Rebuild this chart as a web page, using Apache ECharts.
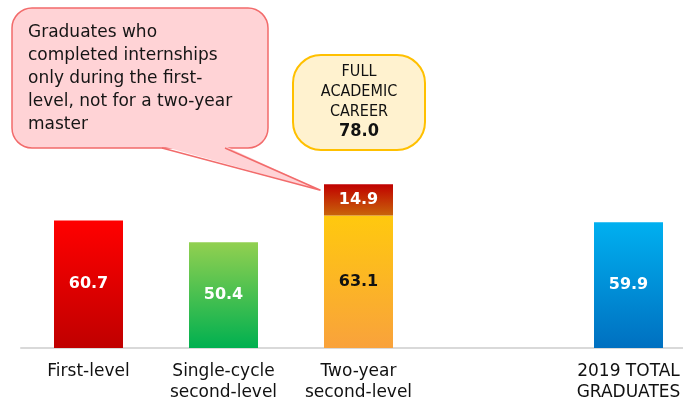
<!DOCTYPE html>
<html>
<head>
<meta charset="utf-8">
<script src="https://cdn.jsdelivr.net/npm/echarts@6/dist/echarts.min.js"></script>
<style>
html,body{margin:0;padding:0;background:#fff;}
#c{width:683px;height:403px;}
</style>
</head>
<body>
<div id="c"></div>
<script>
const categories = ['First-level', 'Single-cycle\nsecond-level', 'Two-year\nsecond-level', '', '2019 TOTAL\nGRADUATES'];
const mainValues = [60.7, 50.4, 63.1, null, 59.9];
const extraValues = [null, null, 14.9, null, null];
const mainColors = [
  ['#FF0000', '#C00000'],
  ['#92D050', '#00B050'],
  ['#FFC90E', '#F9A23C'],
  null,
  ['#00B0F0', '#0070C0']
];
const mainLabelColors = ['#ffffff', '#ffffff', '#111111', '#ffffff', '#ffffff'];
const extraColor = ['#C00000', '#C8640A'];
const noteText = 'Graduates who\ncompleted internships\nonly during the first-\nlevel, not for a two-year\nmaster';
const careerTitle = 'FULL\nACADEMIC\nCAREER';

(function () {
const FONT = 'DejaVu Sans';
function grad(c) {
  return new echarts.graphic.LinearGradient(0, 0, 0, 1, [
    { offset: 0, color: c[0] }, { offset: 1, color: c[1] }
  ]);
}

const chart = echarts.init(document.getElementById('c'), null, { renderer: 'canvas' });

const mainData = mainValues.map((v, i) => v == null ? '-' : {
  value: v,
  itemStyle: { color: grad(mainColors[i]) },
  label: { color: mainLabelColors[i] }
});
const extraData = extraValues.map(v => v == null ? '-' : v);

chart.setOption({
  animation: false,
  grid: { left: 21, right: -13, top: 138, bottom: 55, outerBoundsMode: 'none', containLabel: false },
  xAxis: {
    type: 'category',
    data: categories,
    boundaryGap: true,
    axisLine: { lineStyle: { color: '#D9D9D9', width: 2 } },
    axisTick: { show: false },
    axisLabel: {
      interval: 0,
      margin: 13,
      fontFamily: FONT,
      fontSize: 17,
      lineHeight: 21,
      color: '#111111'
    }
  },
  yAxis: { type: 'value', min: 0, max: 100, show: false },
  series: [
    {
      name: 'main',
      type: 'bar',
      stack: 'a',
      barWidth: 69,
      data: mainData,
      label: {
        show: true,
        position: 'inside',
        fontFamily: FONT,
        fontWeight: 'bold',
        fontSize: 16,
        formatter: p => p.value.toFixed(1)
      }
    },
    {
      name: 'extra',
      type: 'bar',
      stack: 'a',
      barWidth: 69,
      data: extraData,
      itemStyle: { color: grad(extraColor) },
      label: {
        show: true,
        position: 'inside',
        color: '#ffffff',
        fontFamily: FONT,
        fontWeight: 'bold',
        fontSize: 16,
        formatter: p => p.value.toFixed(1)
      }
    }
  ]
});

// annotations
const total = mainValues[2] + extraValues[2];
const topPt = chart.convertToPixel({ gridIndex: 0 }, [2, total]);
const tipX = topPt[0] - 38, tipY = topPt[1] + 6;
const baseL = 162, baseR = 225, by = 148;

chart.setOption({
  graphic: [
    {
      type: 'rect',
      shape: { x: 12, y: 8, width: 256, height: 140, r: 20 },
      style: { fill: '#FFD3D6', stroke: '#F26B6B', lineWidth: 1.5 },
      z: 10
    },
    {
      type: 'polygon',
      shape: { points: [[baseL, by - 2], [baseR, by - 2], [tipX, tipY]] },
      style: { fill: '#FFD3D6' },
      z: 11
    },
    {
      type: 'polyline',
      shape: { points: [[baseL, by], [tipX, tipY], [baseR, by]] },
      style: { stroke: '#F26B6B', lineWidth: 1.5, fill: null },
      z: 12
    },
    {
      type: 'text',
      left: 28, top: 21,
      style: {
        text: noteText,
        font: '17px "DejaVu Sans"',
        fill: '#151515',
        lineHeight: 23
      },
      z: 13
    },
    {
      type: 'rect',
      shape: { x: 293, y: 55, width: 132, height: 95, r: 28 },
      style: { fill: '#FFF2CF', stroke: '#FFC000', lineWidth: 2 },
      z: 10
    },
    {
      type: 'text',
      x: 359, y: 62,
      style: {
        text: careerTitle,
        font: '16px "DejaVu Sans Condensed", "DejaVu Sans"',
        fill: '#111111',
        align: 'center',
        lineHeight: 20
      },
      z: 11
    },
    {
      type: 'text',
      x: 359, y: 122,
      style: {
        text: total.toFixed(1),
        font: 'bold 18px "DejaVu Sans Condensed", "DejaVu Sans"',
        fill: '#111111',
        align: 'center'
      },
      z: 11
    }
  ]
});
})();
</script>
</body>
</html>
